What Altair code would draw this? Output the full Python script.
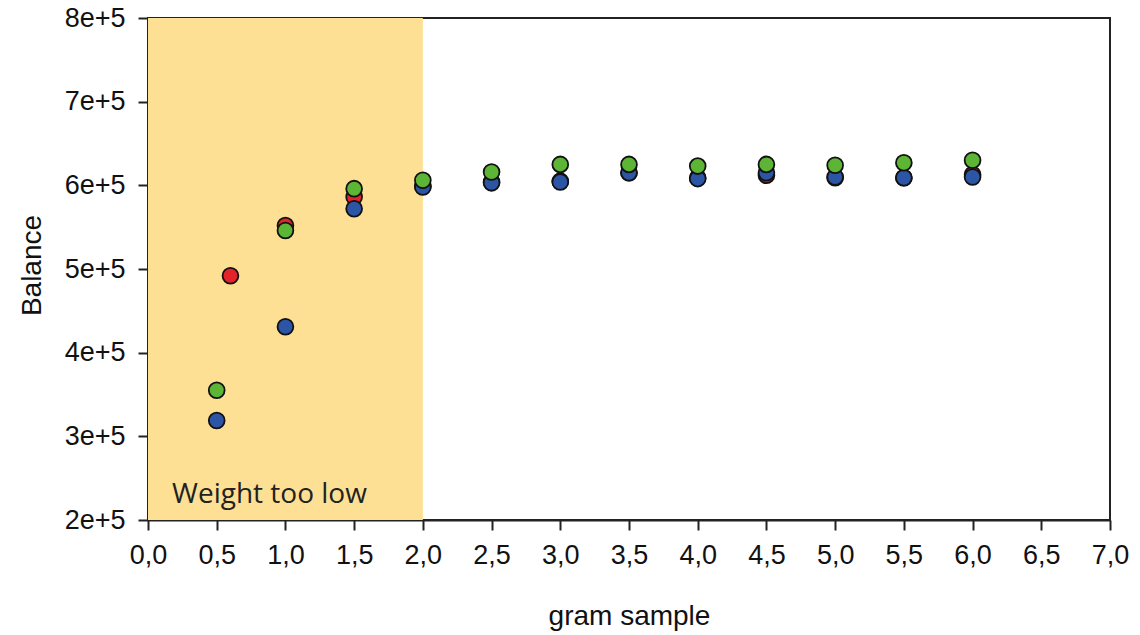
import altair as alt
import pandas as pd

# ---- data ----
red_x = [0.6, 1.0, 1.5, 2.0, 2.5, 3.0, 3.5, 4.0, 4.5, 5.0, 5.5, 6.0]
red_y = [4.92e5, 5.52e5, 5.86e5, 5.99e5, 6.04e5, 6.05e5, 6.15e5, 6.09e5, 6.12e5, 6.09e5, 6.09e5, 6.13e5]

blue_x = [0.5, 1.0, 1.5, 2.0, 2.5, 3.0, 3.5, 4.0, 4.5, 5.0, 5.5, 6.0]
blue_y = [3.19e5, 4.31e5, 5.72e5, 5.98e5, 6.03e5, 6.04e5, 6.15e5, 6.08e5, 6.15e5, 6.10e5, 6.09e5, 6.10e5]

green_x = [0.5, 1.0, 1.5, 2.0, 2.5, 3.0, 3.5, 4.0, 4.5, 5.0, 5.5, 6.0]
green_y = [3.55e5, 5.46e5, 5.96e5, 6.06e5, 6.16e5, 6.25e5, 6.25e5, 6.23e5, 6.25e5, 6.24e5, 6.27e5, 6.30e5]

series_names = ["red", "blue", "green"]
series_colors = ["#e3222a", "#2c55a6", "#5cb535"]

zone_x = [0.0]
zone_x2 = [2.0]
zone_label = ["Weight too low"]
label_x = [0.175]
label_y = [2.2e5]

x_ticks = [i * 0.5 for i in range(15)]
y_ticks = [2e5, 3e5, 4e5, 5e5, 6e5, 7e5, 8e5]

# ---- tables ----
rows = []
for name, xs, ys in [("red", red_x, red_y), ("blue", blue_x, blue_y), ("green", green_x, green_y)]:
    for xv, yv in zip(xs, ys):
        rows.append({"series": name, "x": xv, "y": yv})
pts = pd.DataFrame(rows)
pts["order"] = pts["series"].map({n: i for i, n in enumerate(series_names)})

zone = pd.DataFrame({"x": zone_x, "x2": zone_x2, "y": [y_ticks[0]], "y2": [y_ticks[-1]]})
lab = pd.DataFrame({"x": label_x, "y": label_y, "text": zone_label})

xscale = alt.Scale(domain=[0, 7], nice=False, zero=False)
yscale = alt.Scale(domain=[2e5, 8e5], nice=False, zero=False)

xaxis = alt.Axis(
    title="gram sample",
    values=x_ticks,
    labelExpr="replace(format(datum.value, '.1f'), '.', ',')",
    grid=False,
    tickSize=10,
    labelPadding=12,
    labelFontSize=27,
    labelFlush=False,
    labelOverlap=False,
    titleFontSize=28,
    titleFontWeight="normal",
    titleBaseline="alphabetic",
    titleX=481,
    titleY=104,
)
yaxis = alt.Axis(
    title="Balance",
    values=y_ticks,
    labelExpr="format(datum.value / 100000, 'd') + 'e+5'",
    grid=False,
    tickSize=10,
    labelPadding=13,
    labelFontSize=27,
    labelFlush=False,
    labelOverlap=False,
    titleFontSize=28,
    titleFontWeight="normal",
    titleBaseline="alphabetic",
    titleAngle=270,
    titleX=-108,
    titleY=247,
)

rect = alt.Chart(zone).mark_rect(color="#fde093").encode(
    x=alt.X("x:Q", scale=xscale, axis=xaxis),
    x2="x2",
    y=alt.Y("y:Q", scale=yscale, axis=yaxis),
    y2="y2",
)

text = alt.Chart(lab).mark_text(
    align="left", baseline="alphabetic", font="Open Sans", fontSize=28, color="#222222"
).encode(
    x=alt.X("x:Q", scale=xscale),
    y=alt.Y("y:Q", scale=yscale),
    text="text:N",
)

points = alt.Chart(pts).mark_point(
    filled=True, shape="circle", size=250, stroke="#111111", strokeWidth=1.8, opacity=1
).encode(
    x=alt.X("x:Q", scale=xscale),
    y=alt.Y("y:Q", scale=yscale),
    fill=alt.Fill("series:N", scale=alt.Scale(domain=series_names, range=series_colors), legend=None),
    order=alt.Order("order:Q"),
)

chart = alt.layer(rect, text, points).properties(
    width=962,
    height=502,
    autosize=alt.AutoSizeParams(type="none"),
    padding={"left": 148, "top": 18, "right": 30, "bottom": 115},
    background="white",
).configure_view(
    stroke="#222222", strokeWidth=2
).configure_axis(
    labelFont="Liberation Sans",
    titleFont="Liberation Sans",
    labelColor="#111111",
    titleColor="#111111",
    domainColor="#222222",
    tickColor="#222222",
    domainWidth=2,
    tickWidth=2,
)

chart.save("out.html", embed_options={"renderer": "svg", "actions": False})
